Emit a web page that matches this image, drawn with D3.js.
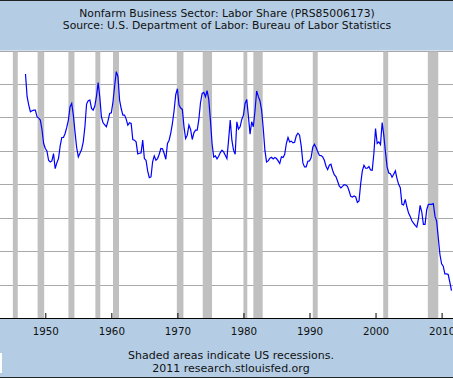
<!DOCTYPE html>
<html>
<head>
<meta charset="utf-8">
<script src="https://cdn.jsdelivr.net/npm/d3@7"></script>
<style>
  body { margin: 0; background: #b4cde5; }
  svg { display: block; font-family: "DejaVu Sans", Verdana, sans-serif; }
</style>
</head>
<body>
<div id="chart"></div>
<script>
// Labor share index, quarterly from 1947 Q1
var startYear = 1947;
var laborShare = [
    110.6, 109.24, 108.74, 108.34, 108.4, 108.44, 108.44, 108.04, 107.96, 107.84,
    107.28, 106.44, 106.14, 106.0, 105.44, 105.34, 105.4, 105.84, 104.94, 105.28,
    105.54, 106.28, 106.8, 106.8, 107.04, 107.4, 107.84, 108.64, 108.84, 108.14,
    107.14, 106.2, 105.64, 105.86, 106.08, 106.54, 107.44, 108.8, 109.0, 109.04,
    108.54, 108.44, 108.68, 109.28, 110.08, 109.24, 108.04, 107.68, 107.56, 107.44,
    107.8, 108.24, 108.28, 108.94, 109.88, 110.74, 110.44, 109.04, 108.52, 108.14,
    108.14, 107.9, 107.54, 107.68,
    107.64, 106.68, 106.64, 106.54, 105.82, 105.86, 105.88, 106.64, 105.54, 105.44,
    104.8, 104.4, 104.44, 105.34, 105.7, 105.44, 105.54, 105.8, 106.14, 106.12,
    105.84, 105.5, 106.44, 106.64, 107.08, 107.64, 108.4, 109.36, 109.72, 108.74,
    108.56, 108.48, 107.44, 106.74, 106.94, 107.54, 107.28, 106.68, 107.08, 107.24,
    107.24, 107.88, 108.88, 109.44, 109.5, 109.24, 109.6, 109.08, 107.84, 106.44,
    105.64, 105.7, 105.52, 105.68, 105.9, 106.04, 105.94, 105.74, 105.54, 106.64,
    107.84, 106.64, 106.04, 105.8,
    107.74, 107.3, 107.44, 107.88, 108.14, 108.84, 109.08, 108.08, 107.0, 107.74,
    107.44, 108.4, 109.58, 109.26, 109.0, 108.44, 107.34, 106.04, 105.34, 105.4,
    105.56, 105.62, 105.52, 105.6, 105.54, 105.4, 105.24, 105.64, 105.6, 105.8,
    106.44, 106.8, 106.54, 106.58, 106.48, 106.52, 106.9, 107.06, 106.94, 106.28,
    105.28, 105.04, 105.04, 105.38, 105.4, 105.6, 106.22, 106.4, 106.2, 105.94,
    105.74, 105.72, 105.64, 105.44, 105.08, 104.88, 105.14, 105.2, 104.84, 104.58,
    104.46, 104.2, 103.9, 103.78, 103.88,
    103.98, 103.96, 103.88, 103.6, 103.28, 103.24, 103.3, 103.24, 102.92, 103.0,
    104.04, 104.8, 105.14, 104.96, 104.96, 105.06, 104.86, 104.84, 105.84, 107.34,
    106.44, 106.54, 106.38, 107.7, 106.94, 105.94, 105.04, 104.68, 104.64, 104.42,
    104.6, 104.8, 104.34, 104.0, 103.8, 102.8, 102.76, 103.1, 102.64, 102.28,
    102.08, 101.82, 101.68, 101.54, 101.44, 101.94, 102.74, 102.34, 101.6, 101.6,
    102.48, 102.8, 102.8, 102.8, 102.84, 102.08, 101.8, 100.8, 99.8, 99.24,
    99.1, 98.64, 98.64, 98.6, 98.14, 97.64
];

// NBER recessions [start month, end month]
var recessions = [
    ["1945-02", "1945-10"], ["1948-11", "1949-10"], ["1953-07", "1954-05"],
    ["1957-08", "1958-04"], ["1960-04", "1961-02"], ["1969-12", "1970-11"],
    ["1973-11", "1975-03"], ["1980-01", "1980-07"], ["1981-07", "1982-11"],
    ["1990-07", "1991-03"], ["2001-03", "2001-11"], ["2007-12", "2009-06"]
];

var decadeTicks = [1950, 1960, 1970, 1980, 1990, 2000, 2010];
var yTicks = [98, 100, 102, 104, 106, 108, 110, 112];

var titleLines = [
    "Nonfarm Business Sector: Labor Share (PRS85006173)",
    "Source: U.S. Department of Labor: Bureau of Labor Statistics"
];
var footLines = [
    "Shaded areas indicate US recessions.",
    "2011 research.stlouisfed.org"
];

var W = 453, H = 378;
var plot = {top: 50.6, bottom: 318, left: -60, right: W + 10};

var x = d3.scaleTime()
    .domain([new Date(1950, 0, 1), new Date(2010, 0, 1)])
    .range([45.3, 441.6]);
var y = d3.scaleLinear().domain([96, 112]).range([plot.bottom, plot.top]);

var data = laborShare.map(function(v, i) {
    return {date: new Date(startYear + Math.floor(i / 4), (i % 4) * 3, 1), value: v};
});

var svg = d3.select("#chart").append("svg")
    .attr("width", W).attr("height", H);

svg.append("rect").attr("width", W).attr("height", H).attr("fill", "#b4cde5");

// plot background
svg.append("rect")
    .attr("x", plot.left).attr("y", plot.top)
    .attr("width", plot.right - plot.left).attr("height", plot.bottom - plot.top)
    .attr("fill", "#ffffff");

// gridlines
svg.append("g").selectAll("line")
    .data(yTicks)
    .enter().append("line")
        .attr("x1", plot.left).attr("x2", plot.right)
        .attr("y1", function(d) { return Math.round(y(d)) + 0.5; })
        .attr("y2", function(d) { return Math.round(y(d)) + 0.5; })
        .attr("stroke", "#a9a9a9").attr("stroke-width", 1);

// recession bars
function monthDate(s, end) {
    var p = s.split("-");
    return new Date(+p[0], +p[1] - 1 + (end ? 1 : 0), 1);
}
svg.append("g").selectAll("rect")
    .data(recessions)
    .enter().append("rect")
        .attr("x", function(d) { return x(monthDate(d[0])); })
        .attr("width", function(d) { return x(monthDate(d[1], true)) - x(monthDate(d[0])); })
        .attr("y", plot.top + 1)
        .attr("height", plot.bottom - plot.top - 1)
        .attr("fill", "#c0c0c0");

// the series
var line = d3.line()
    .x(function(d) { return x(d.date); })
    .y(function(d) { return y(d.value); });
svg.append("path")
    .datum(data)
    .attr("fill", "none")
    .attr("stroke", "#0000ff")
    .attr("stroke-width", 1.2)
    .attr("d", line);

// x axis
var xAxis = d3.axisBottom(x)
    .tickValues(decadeTicks.map(function(yr) { return new Date(yr, 0, 1); }))
    .tickFormat(d3.timeFormat("%Y"))
    .tickSizeInner(-5).tickSizeOuter(0).tickPadding(10);
var gx = svg.append("g")
    .attr("transform", "translate(0," + plot.bottom + ")")
    .call(xAxis);
gx.select(".domain").remove();
gx.selectAll(".tick line").attr("stroke", "#000");
gx.selectAll(".tick text")
    .attr("fill", "#111")
    .style("font-size", "10.3px")
    .style("font-family", "'DejaVu Sans', Verdana, sans-serif");
svg.append("line")
    .attr("x1", 0).attr("x2", W)
    .attr("y1", plot.bottom + 0.5).attr("y2", plot.bottom + 0.5)
    .attr("stroke", "#000");

// titles
svg.append("g").selectAll("text")
    .data(titleLines)
    .enter().append("text")
        .attr("x", 227).attr("y", function(d, i) { return 17 + i * 12; })
        .attr("text-anchor", "middle")
        .style("font-size", "10.8px")
        .attr("fill", "#111")
        .text(function(d) { return d; });

svg.append("g").selectAll("text")
    .data(footLines)
    .enter().append("text")
        .attr("x", 231).attr("y", function(d, i) { return 359 + i * 12.5; })
        .attr("text-anchor", "middle")
        .style("font-size", "11px")
        .attr("fill", "#111")
        .text(function(d) { return d; });

// borders and logo stub
svg.append("rect").attr("x", 0).attr("y", 353).attr("width", 2).attr("height", 20).attr("fill", "#fff");
svg.append("line").attr("x1", 0).attr("x2", W).attr("y1", 0.5).attr("y2", 0.5).attr("stroke", "#222");
svg.append("line").attr("x1", 0).attr("x2", W).attr("y1", H - 0.5).attr("y2", H - 0.5).attr("stroke", "#222");
</script>
</body>
</html>
